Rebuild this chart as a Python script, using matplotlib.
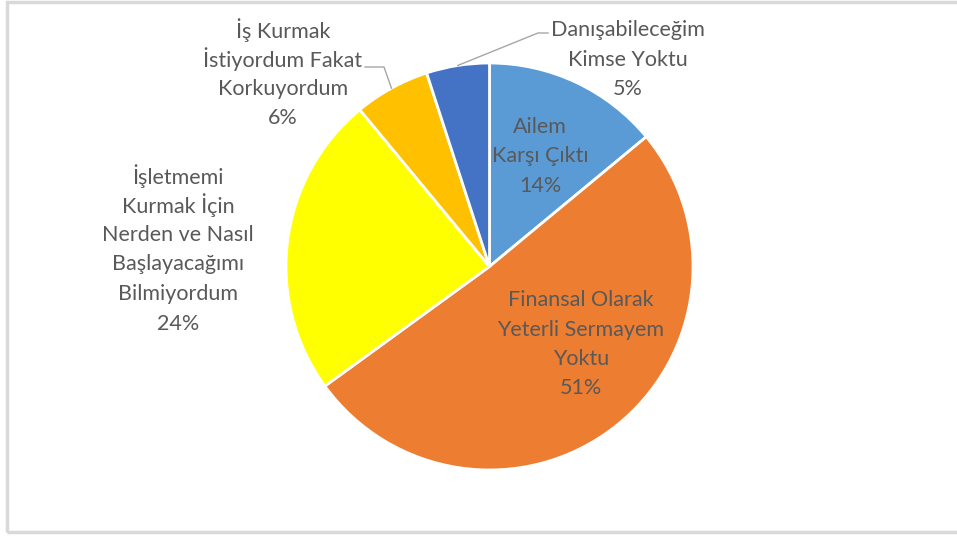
import numpy as np
import matplotlib.pyplot as plt
from matplotlib.patches import Rectangle

plt.rcParams['font.family'] = ['Lato', 'DejaVu Sans']

labels = [
    "Ailem\nKarşı Çıktı",
    "Finansal Olarak\nYeterli Sermayem\nYoktu",
    "İşletmemi\nKurmak İçin\nNerden ve Nasıl\nBaşlayacağımı\nBilmiyordum",
    "İş Kurmak\nİstiyordum Fakat\nKorkuyordum",
    "Danışabileceğim\nKimse Yoktu",
]
percents = [14, 51, 24, 6, 5]
colors = ["#5B9BD5", "#ED7D31", "#FFFF00", "#FFC000", "#4472C4"]

W, H = 957, 536
# label centres in image pixels (x, y of first line), y measured from top
label_pos = [(540, 127), (581, 300), (178, 176), (283, 30), (628, 30)]
# leader lines: (text end x, elbow x, y) in image pixels
leaders = {3: (365, 384, 67), 4: (548, 538, 33)}

fig = plt.figure(figsize=(W / 100, H / 100), dpi=100)
ax = fig.add_axes([0, 0, 1, 1])

cx, cy, r = 489.5, H - 266.5, 203.5
wedges, _ = ax.pie(percents, colors=colors, startangle=90, counterclock=False,
                   center=(cx, cy), radius=r, frame=True,
                   wedgeprops=dict(edgecolor="white", linewidth=2))
ax.set_xlim(0, W)
ax.set_ylim(0, H)
ax.axis("off")

line_h = 29.5
for lab, pct, (x, y) in zip(labels, percents, label_pos):
    lines = (lab + f"\n{pct}%").split("\n")
    for i, line in enumerate(lines):
        ax.text(x, H - (y + i * line_h), line, ha="center", va="center",
                fontsize=15.5, color="#595959")

# leader lines for the small slices, ending at the wedge mid-angle
for idx, (x0, x1, y0) in leaders.items():
    w = wedges[idx]
    mid = np.deg2rad((w.theta1 + w.theta2) / 2)
    ex = cx + r * np.cos(mid)
    ey = cy + r * np.sin(mid)
    ax.plot([x0, x1, ex], [H - y0, H - y0, ey], color="#A6A6A6", lw=1)

# chart area border (right side runs off the picture)
ax.add_patch(Rectangle((7, 4), W, H - 6, fill=False, edgecolor="#D9D9D9",
                       lw=2.5, clip_on=False))

fig.savefig("out.png", dpi=100)
